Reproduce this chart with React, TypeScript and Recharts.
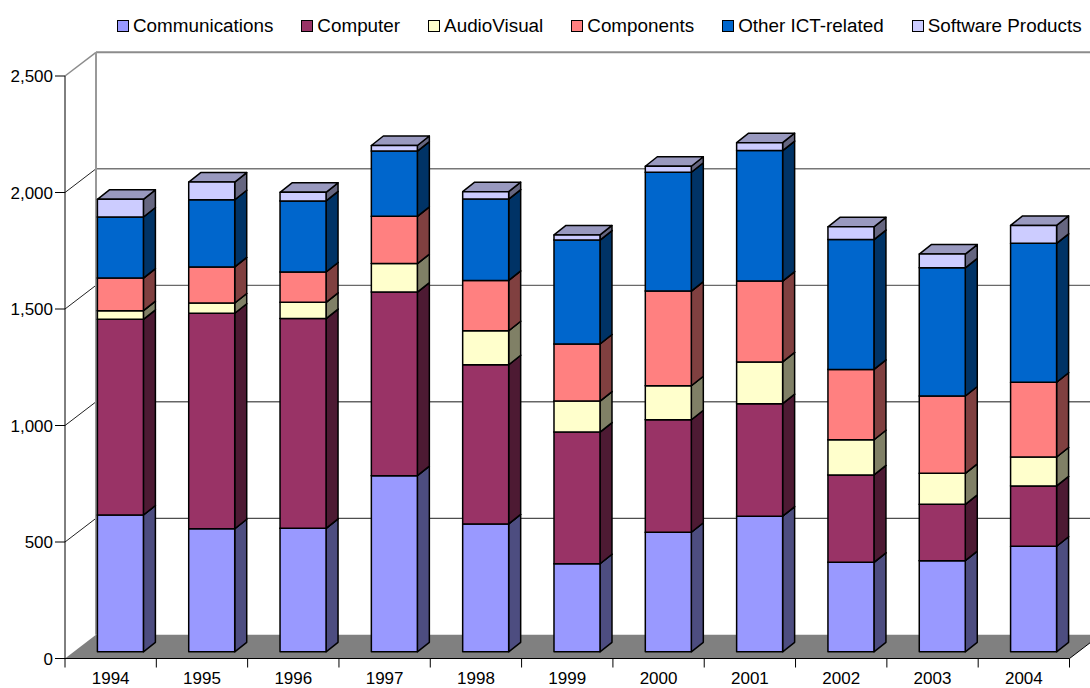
import { Bar, BarChart, CartesianGrid, Legend, XAxis, YAxis } from "recharts";

const YEARS = ["1994", "1995", "1996", "1997", "1998", "1999", "2000", "2001", "2002", "2003", "2004"];
const COMMUNICATIONS = [587, 528, 530, 756, 549, 378, 513, 582, 384, 391, 453];
const COMPUTER = [840, 925, 900, 788, 683, 565, 483, 483, 375, 242, 259];
const AUDIOVISUAL = [37, 44, 70, 122, 146, 133, 146, 179, 151, 133, 124];
const COMPONENTS = [140, 155, 130, 203, 216, 245, 406, 347, 302, 332, 321];
const OTHER_ICT = [262, 288, 305, 280, 349, 446, 510, 560, 557, 550, 596];
const SOFTWARE = [76, 76, 37, 24, 32, 22, 26, 34, 55, 59, 77];
const Y_TICKS = [0, 500, 1000, 1500, 2000, 2500];

const SERIES = [
  { key: "communications", name: "Communications", color: "#9999ff", values: COMMUNICATIONS },
  { key: "computer", name: "Computer", color: "#993366", values: COMPUTER },
  { key: "audiovisual", name: "AudioVisual", color: "#ffffcc", values: AUDIOVISUAL },
  { key: "components", name: "Components", color: "#ff8080", values: COMPONENTS },
  { key: "otherIct", name: "Other ICT-related", color: "#0066cc", values: OTHER_ICT },
  { key: "software", name: "Software Products", color: "#ccccff", values: SOFTWARE },
];

const rows = YEARS.map((year, i) => {
  const row: Record<string, string | number> = { year };
  SERIES.forEach((s) => {
    row[s.key] = s.values[i];
  });
  return row;
});

const WIDTH = 1090;
const HEIGHT = 688;
const FONT = '"Liberation Sans", Arial, sans-serif';
const PLOT_LEFT = 65;
const PLOT_RIGHT = 1069.5;
const PLOT_TOP = 76;
const PLOT_BOTTOM = 658.5;
const BAND = (PLOT_RIGHT - PLOT_LEFT) / YEARS.length;

// fake perspective: how far the back wall sits from the axis plane
const WALL_DX = 31;
const WALL_DY = -23.7;
// the bars stand a little way into the floor, and have their own depth
const BAR_SHIFT_X = 9.4;
const BAR_SHIFT_Y = -6.7;
const BAR_DEPTH_X = 12;
const BAR_DEPTH_Y = -9.5;

// stroke of the wall line per axis value
const WALL_STROKES: Record<number, { stroke: string; width: number }> = {
  0: { stroke: "#808080", width: 1 },
  500: { stroke: "#222", width: 1 },
  1000: { stroke: "#666", width: 1.4 },
  1500: { stroke: "#444", width: 1 },
  2000: { stroke: "#777", width: 1.6 },
  2500: { stroke: "#8c8c8c", width: 2 },
};

function shade(hex: string, factor: number): string {
  const n = parseInt(hex.slice(1), 16);
  const ch = (v: number) => Math.round(v * factor);
  return `rgb(${ch((n >> 16) & 255)},${ch((n >> 8) & 255)},${ch(n & 255)})`;
}

function Box3D(props: any) {
  const { x, y, width, height, fill } = props;
  const x0 = x + BAR_SHIFT_X;
  const y0 = y + BAR_SHIFT_Y;
  const x1 = x0 + width;
  const y1 = y0 + height;
  const dx = BAR_DEPTH_X;
  const dy = BAR_DEPTH_Y;
  const line = { stroke: "#000", strokeWidth: 1.5, strokeLinejoin: "round" as const };
  return (
    <g>
      <polygon
        points={`${x1},${y0} ${x1 + dx},${y0 + dy} ${x1 + dx},${y1 + dy} ${x1},${y1}`}
        fill={shade(fill, 0.5)}
        {...line}
      />
      <polygon
        points={`${x0},${y0} ${x0 + dx},${y0 + dy} ${x1 + dx},${y0 + dy} ${x1},${y0}`}
        fill={shade(fill, 0.75)}
        {...line}
      />
      <rect x={x0} y={y0} width={width} height={height} fill={fill} {...line} />
    </g>
  );
}

function WallLine(props: any) {
  const y = props.y1;
  const value = Math.round(((PLOT_BOTTOM - y) / (PLOT_BOTTOM - PLOT_TOP)) * 2500);
  const style = WALL_STROKES[value] ?? WALL_STROKES[500];
  const backY = y + WALL_DY;
  if (value === 0) {
    return (
      <g>
        <polygon
          points={`${PLOT_LEFT},${y} ${PLOT_LEFT + WALL_DX},${backY} ${PLOT_RIGHT + WALL_DX},${backY} ${PLOT_RIGHT},${y}`}
          fill="#808080"
        />
        <line x1={PLOT_RIGHT} y1={y} x2={PLOT_RIGHT + WALL_DX} y2={backY} stroke="#000" strokeWidth={1} />
      </g>
    );
  }
  return (
    <g>
      <line x1={PLOT_LEFT} y1={y} x2={PLOT_LEFT + WALL_DX} y2={backY} stroke={value === 2500 ? "#8c8c8c" : "#222"} strokeWidth={value === 2500 ? 1.5 : 1} />
      <line x1={PLOT_LEFT + WALL_DX} y1={backY} x2={WIDTH} y2={backY} stroke={style.stroke} strokeWidth={style.width} />
      {value === 2500 && (
        <line
          x1={PLOT_LEFT + WALL_DX}
          y1={backY}
          x2={PLOT_LEFT + WALL_DX}
          y2={PLOT_BOTTOM + WALL_DY}
          stroke="#999"
          strokeWidth={2}
        />
      )}
    </g>
  );
}

// year label plus the tick marks at the category boundaries
function YearTick(props: any) {
  const { x, index, payload } = props;
  const left = x - BAND / 2;
  const right = x + BAND / 2;
  return (
    <g>
      <line x1={left} y1={PLOT_BOTTOM} x2={left} y2={PLOT_BOTTOM + 9} stroke="#000" strokeWidth={1} />
      {index === YEARS.length - 1 && (
        <line x1={right} y1={PLOT_BOTTOM} x2={right} y2={PLOT_BOTTOM + 9} stroke="#000" strokeWidth={1} />
      )}
      <text x={x} y={684.2} textAnchor="middle" fontFamily={FONT} fontSize={17} fill="#000">
        {payload.value}
      </text>
    </g>
  );
}

function SeriesLegend() {
  return (
    <div style={{ display: "flex", gap: 28, paddingLeft: 117, paddingTop: 14, fontFamily: FONT, fontSize: 18.85, lineHeight: "23px", whiteSpace: "nowrap" }}>
      {SERIES.map((s) => (
        <div key={s.key} style={{ display: "flex", alignItems: "center", gap: 4 }}>
          <span style={{ width: 10, height: 10, border: "1.5px solid #000", background: s.color, display: "inline-block" }} />
          <span>{s.name}</span>
        </div>
      ))}
    </div>
  );
}

export default function App() {
  return (
    <div style={{ position: "absolute", left: 0, top: 0, width: WIDTH, height: HEIGHT, background: "#fff", overflow: "hidden" }}>
      <BarChart
        width={WIDTH}
        height={HEIGHT}
        data={rows}
        barSize={46}
        margin={{ top: 0, right: WIDTH - PLOT_RIGHT, bottom: 0, left: 0 }}
      >
        <Legend
          verticalAlign="top"
          height={PLOT_TOP}
          content={<SeriesLegend />}
          wrapperStyle={{ left: 0, top: 0, width: WIDTH }}
        />
        <CartesianGrid horizontal={(p: any) => <WallLine key={p.key} {...p} />} vertical={false} />
        <XAxis
          dataKey="year"
          height={HEIGHT - PLOT_BOTTOM}
          interval={0}
          tickLine={false}
          axisLine={{ stroke: "#000", strokeWidth: 1 }}
          tick={<YearTick />}
        />
        <YAxis
          width={PLOT_LEFT}
          domain={[0, 2500]}
          ticks={Y_TICKS}
          tickSize={10}
          tickMargin={2}
          tickFormatter={(v: number) => v.toLocaleString("en-US")}
          axisLine={{ stroke: "#000", strokeWidth: 1 }}
          tickLine={{ stroke: "#000", strokeWidth: 1 }}
          tick={{ fontFamily: FONT, fontSize: 17, fill: "#000" }}
        />
        {SERIES.map((s) => (
          <Bar key={s.key} dataKey={s.key} name={s.name} stackId="total" fill={s.color} shape={<Box3D />} isAnimationActive={false} />
        ))}
      </BarChart>
    </div>
  );
}
